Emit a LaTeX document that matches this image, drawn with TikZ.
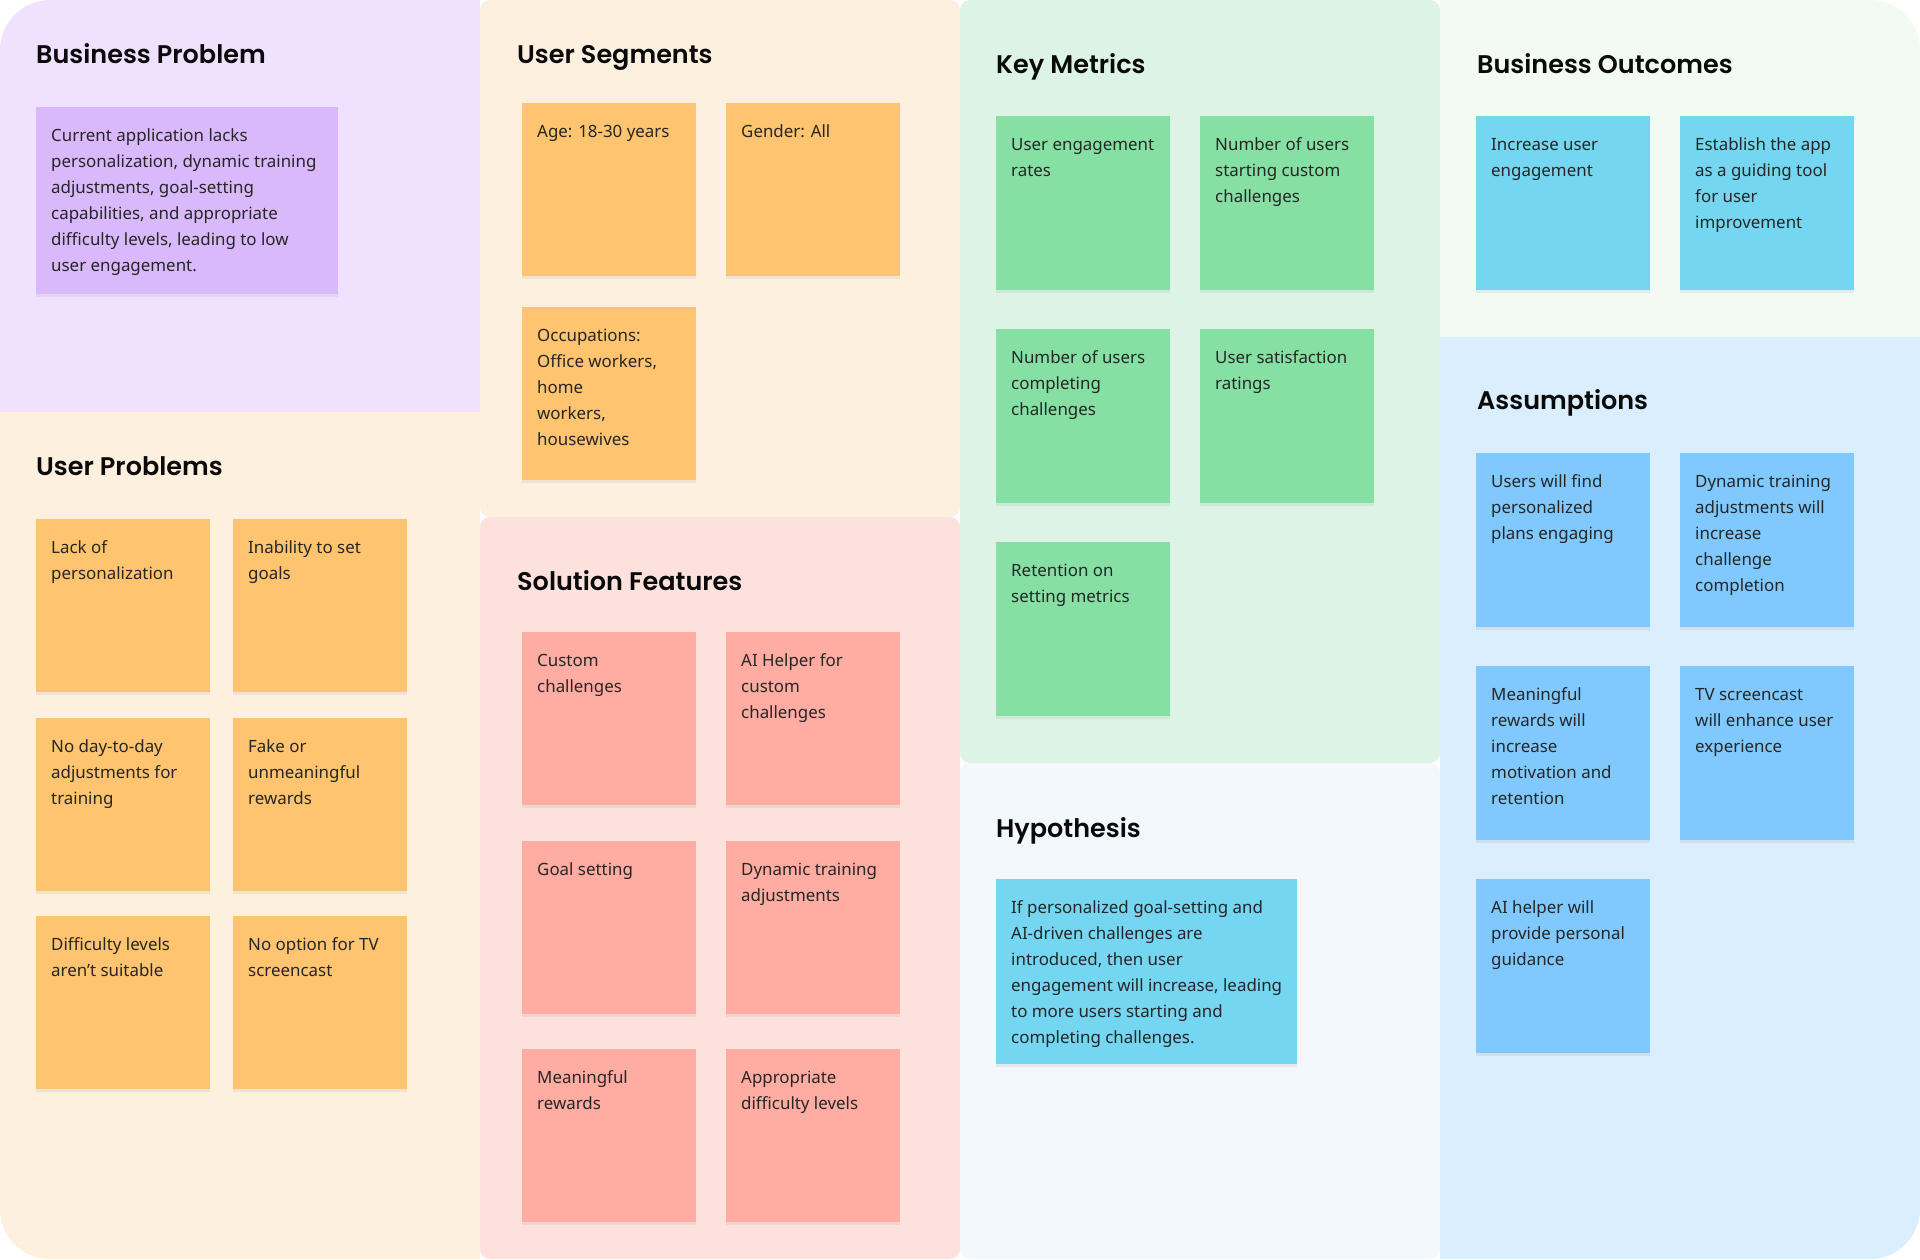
\documentclass[tikz,border=0pt]{standalone}
\usepackage{fontspec}
\setmainfont{Noto Sans}
\newfontfamily\titlefont{Poppins SemiBold}
\usetikzlibrary{shadows}
\definecolor{pnPurple}{HTML}{F0E1FE}
\definecolor{pnCream}{HTML}{FEF0DE}
\definecolor{pnPink}{HTML}{FDE1DD}
\definecolor{pnGreen}{HTML}{DDF3E6}
\definecolor{pnHyp}{HTML}{F3F8FC}
\definecolor{pnOut}{HTML}{F2FAF3}
\definecolor{pnAss}{HTML}{DAEEFD}
\definecolor{stPurple}{HTML}{D9B9FB}
\definecolor{stOrange}{HTML}{FFC470}
\definecolor{stPink}{HTML}{FFADA2}
\definecolor{stGreen}{HTML}{86E0A4}
\definecolor{stCyan}{HTML}{74D6F0}
\definecolor{stBlue}{HTML}{80C9FF}
\definecolor{txt}{HTML}{262626}
\definecolor{ttl}{HTML}{0A0A0A}
\tikzset{
  panel/.style={rounded corners=10pt},
  stickybox/.style={anchor=north west, inner sep=0pt, draw=none,
    drop shadow={opacity=0.12, shadow xshift=0pt, shadow yshift=-3pt}},
  stickytext/.style={anchor=north west, inner sep=0pt, align=left, text=txt,
    font={\fontsize{16.9}{26}\selectfont}},
  paneltitle/.style={anchor=base west, inner sep=0pt, text=ttl,
    font={\titlefont\fontsize{25.5}{30}\selectfont}}
}
\newcommand\stk[7]{%
  \node[stickybox, fill=#6, minimum width=#4pt, minimum height=#5pt] (#1) at (#2,#3) {};
  \node[stickytext] (#1t) at ([xshift=15pt,yshift=-21pt]#1.north west) {\rule{0pt}{13pt}#7};
}
\begin{document}
\begin{tikzpicture}[x=1pt,y=-1pt]
\useasboundingbox (0,0) rectangle (1920,1259);
\clip[rounded corners=50pt] (0,0) rectangle (1920,1259);
\fill[white] (0,0) rectangle (1920,1259);
% panels
\fill[pnPurple] (0,0) rectangle (480,412);
\fill[pnCream] (0,412) rectangle (480,1259);
\fill[pnCream, panel] (480,0) rectangle (960,517);
\fill[pnPink, panel] (480,517) rectangle (960,1259);
\fill[pnGreen, panel] (960,0) rectangle (1440,763);
\fill[pnHyp, panel] (960,763) rectangle (1440,1259);
\fill[pnOut] (1440,0) rectangle (1920,337);
\fill[pnAss] (1440,337) rectangle (1920,1259);
% titles
\node[paneltitle] (tBP) at (36,63) {Business Problem};
\node[paneltitle] (tUS) at (517,63) {User Segments};
\node[paneltitle] (tKM) at (996,73) {Key Metrics};
\node[paneltitle] (tBO) at (1477,73) {Business Outcomes};
\node[paneltitle] (tUP) at (36,475) {User Problems};
\node[paneltitle] (tSF) at (517,590) {Solution Features};
\node[paneltitle] (tHY) at (996,837) {Hypothesis};
\node[paneltitle] (tAS) at (1477,409) {Assumptions};
% business problem
\stk{bp}{36}{107}{302}{187}{stPurple}{Current application lacks\\personalization, dynamic training\\adjustments, goal-setting\\capabilities, and appropriate\\difficulty levels, leading to low\\user engagement.}
% user segments
\stk{us1}{522}{103}{174}{173}{stOrange}{Age: 18-30 years}
\stk{us2}{726}{103}{174}{173}{stOrange}{Gender: All}
\stk{us3}{522}{307}{174}{173}{stOrange}{Occupations:\\Office workers,\\home\\workers,\\housewives}
% user problems
\stk{up1}{36}{519}{174}{173}{stOrange}{Lack of\\personalization}
\stk{up2}{233}{519}{174}{173}{stOrange}{Inability to set\\goals}
\stk{up3}{36}{718}{174}{173}{stOrange}{No day-to-day\\adjustments for\\training}
\stk{up4}{233}{718}{174}{173}{stOrange}{Fake or\\unmeaningful\\rewards}
\stk{up5}{36}{916}{174}{173}{stOrange}{Difficulty levels\\aren't suitable}
\stk{up6}{233}{916}{174}{173}{stOrange}{No option for TV\\screencast}
% solution features
\stk{sf1}{522}{632}{174}{173}{stPink}{Custom\\challenges}
\stk{sf2}{726}{632}{174}{173}{stPink}{AI Helper for\\custom\\challenges}
\stk{sf3}{522}{841}{174}{173}{stPink}{Goal setting}
\stk{sf4}{726}{841}{174}{173}{stPink}{Dynamic training\\adjustments}
\stk{sf5}{522}{1049}{174}{173}{stPink}{Meaningful\\rewards}
\stk{sf6}{726}{1049}{174}{173}{stPink}{Appropriate\\difficulty levels}
% key metrics
\stk{km1}{996}{116}{174}{174}{stGreen}{User engagement\\rates}
\stk{km2}{1200}{116}{174}{174}{stGreen}{Number of users\\starting custom\\challenges}
\stk{km3}{996}{329}{174}{174}{stGreen}{Number of users\\completing\\challenges}
\stk{km4}{1200}{329}{174}{174}{stGreen}{User satisfaction\\ratings}
\stk{km5}{996}{542}{174}{174}{stGreen}{Retention on\\setting metrics}
% hypothesis
\stk{hy}{996}{879}{301}{185}{stCyan}{If personalized goal-setting and\\AI-driven challenges are\\introduced, then user\\engagement will increase, leading\\to more users starting and\\completing challenges.}
% business outcomes
\stk{bo1}{1476}{116}{174}{174}{stCyan}{Increase user\\engagement}
\stk{bo2}{1680}{116}{174}{174}{stCyan}{Establish the app\\as a guiding tool\\for user\\improvement}
% assumptions
\stk{as1}{1476}{453}{174}{174}{stBlue}{Users will find\\personalized\\plans engaging}
\stk{as2}{1680}{453}{174}{174}{stBlue}{Dynamic training\\adjustments will\\increase\\challenge\\completion}
\stk{as3}{1476}{666}{174}{174}{stBlue}{Meaningful\\rewards will\\increase\\motivation and\\retention}
\stk{as4}{1680}{666}{174}{174}{stBlue}{TV screencast\\will enhance user\\experience}
\stk{as5}{1476}{879}{174}{174}{stBlue}{AI helper will\\provide personal\\guidance}
\end{tikzpicture}
\end{document}
